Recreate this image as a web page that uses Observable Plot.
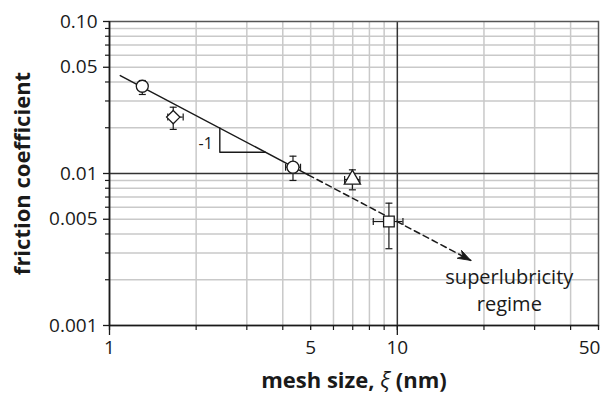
<!DOCTYPE html>
<html><head><meta charset="utf-8">
<script src="https://cdn.jsdelivr.net/npm/d3@7"></script>
<script src="https://cdn.jsdelivr.net/npm/@observablehq/plot@0.6"></script>
<style>body{margin:0;background:#fff}</style>
</head><body><div id="chart"></div>
<script>
// tick values
const xMajor = [1, 5, 10, 50];
const xMajorLabels = ["1", "5", "10", "50"];
const xMinor = [2, 3, 4, 6, 7, 8, 9, 20, 30, 40];
const xGrid = [2, 3, 4, 5, 6, 7, 8, 9, 20, 30, 40];
const yMajor = [0.1, 0.05, 0.01, 0.005, 0.001];
const yMajorLabels = ["0.10", "0.05", "0.01", "0.005", "0.001"];
const yMinor = [0.002, 0.003, 0.004, 0.006, 0.007, 0.008, 0.009, 0.02, 0.03, 0.04, 0.06, 0.07, 0.08, 0.09];
const yGrid = [0.002, 0.003, 0.004, 0.005, 0.006, 0.007, 0.008, 0.009, 0.02, 0.03, 0.04, 0.05, 0.06, 0.07, 0.08, 0.09];

// data points
const shapes = ["circle", "diamond2", "circle", "triangle", "square"];
const xs  = [1.30, 1.665, 4.34, 6.98, 9.35];
const ys  = [0.0375, 0.0235, 0.0110, 0.00913, 0.00483];
const yLo = [0.0331, 0.0195, 0.0090, 0.00781, 0.00320];
const yHi = [0.0409, 0.0273, 0.0130, 0.01057, 0.00638];
const xLo = [1.30, 1.594, 4.09, 6.56, 8.25];
const xHi = [1.30, 1.803, 4.61, 7.41, 10.46];

// trend line (slope -1)
const solidX = [1.09, 4.9];
const solidY = [0.0441, 0.0098];
const dashX = [4.9, 18.0];
const dashY = [0.0098, 0.00268];
// slope triangle
const triX = [2.417, 2.417, 3.48];
const triY = [0.0199, 0.0138, 0.0138];

const xLabel = "mesh size, ξ (nm)";
const yLabel = "friction coefficient";

const pts = xs.map((x, i) => ({x, y: ys[i], shape: shapes[i], yLo: yLo[i], yHi: yHi[i], xLo: xLo[i], xHi: xHi[i]}));
const xErr = pts.filter(d => d.xHi > d.xLo);
const solid = solidX.map((x, i) => ({x, y: solidY[i]}));
const dash = dashX.map((x, i) => ({x, y: dashY[i]}));
const tri = triX.map((x, i) => ({x, y: triY[i]}));
const xTickLabels = xMajor.map((v, i) => ({v, t: xMajorLabels[i]}));
const xTickInner = xTickLabels.slice(0, -1);
const xTickLast = xTickLabels.slice(-1);

const capH = {draw(ctx, size) { const r = Math.sqrt(size / Math.PI); ctx.moveTo(-r, 0); ctx.lineTo(r, 0); }};
const capV = {draw(ctx, size) { const r = Math.sqrt(size / Math.PI); ctx.moveTo(0, -r); ctx.lineTo(0, r); }};
const head = {draw(ctx) { ctx.moveTo(0, 0); ctx.lineTo(-13, -4.5); ctx.lineTo(-9, 0); ctx.lineTo(-13, 4.5); ctx.closePath(); }};
const noLabel = () => "";

const ink = "#1a1a1a";
const chart = Plot.plot({
  width: 606, height: 399,
  marginTop: 21, marginRight: 8, marginBottom: 74, marginLeft: 109,
  style: {fontFamily: "'Open Sans', sans-serif", fontSize: "19px", color: ink, background: "#fff"},
  x: {type: "log", domain: [1, 50]},
  y: {type: "log", domain: [0.001, 0.1]},
  marks: [
    Plot.ruleX(xGrid, {stroke: "#c9c9c9", strokeWidth: 1.5}),
    Plot.ruleY(yGrid, {stroke: "#c9c9c9", strokeWidth: 1.5}),
    Plot.ruleX([10], {stroke: "#333", strokeWidth: 1.5}),
    Plot.ruleY([0.01], {stroke: "#333", strokeWidth: 1.5}),
    Plot.frame({stroke: "#555", strokeWidth: 1.5}),
    Plot.ruleX([1], {stroke: ink, strokeWidth: 1.6}),
    Plot.ruleY([0.001], {stroke: ink, strokeWidth: 1.6}),
    // tick marks
    Plot.axisY(yMajor, {tickSize: 6, tickFormat: noLabel, stroke: ink, strokeWidth: 1.3, label: null}),
    Plot.axisY(yMinor, {tickSize: 4, tickFormat: noLabel, stroke: ink, strokeWidth: 1.2, label: null}),
    Plot.axisX(xMajor, {tickSize: 5, tickFormat: noLabel, stroke: ink, strokeWidth: 1.3, label: null}),
    Plot.axisX(xMinor, {tickSize: 5, tickFormat: noLabel, stroke: ink, strokeWidth: 1.2, label: null}),
    Plot.axisX([1, 10], {tickSize: 10, tickFormat: noLabel, stroke: ink, strokeWidth: 1.3, label: null}),
    // tick labels
    Plot.text(yMajor, {y: d => d, text: (d, i) => yMajorLabels[i], frameAnchor: "left", textAnchor: "end", dx: -12, fontSize: 19, fill: ink}),
    Plot.text(xTickInner, {x: "v", text: "t", frameAnchor: "bottom", lineAnchor: "top", dy: 15, fontSize: 19, fill: ink}),
    Plot.text(xTickLast, {x: "v", text: "t", frameAnchor: "bottom", lineAnchor: "top", dy: 15, dx: -9, fontSize: 19, fill: ink}),
    // trend
    Plot.line(solid, {x: "x", y: "y", stroke: ink, strokeWidth: 1.5}),
    Plot.line(dash, {x: "x", y: "y", stroke: ink, strokeWidth: 1.5, strokeDasharray: "6,4"}),
    Plot.dot([dash[dash.length - 1]], {x: "x", y: "y", symbol: head, fill: ink, stroke: ink, strokeWidth: 0.8, rotate: 28}),
    Plot.line(tri, {x: "x", y: "y", stroke: ink, strokeWidth: 1.4}),
    Plot.text(["-1"], {x: triX[0], y: 0.01568, textAnchor: "end", dx: -7, fontSize: 16, fill: ink}),
    // error bars
    Plot.ruleX(pts, {x: "x", y1: "yLo", y2: "yHi", stroke: ink, strokeWidth: 1.2}),
    Plot.dot(pts, {x: "x", y: "yLo", symbol: capH, r: 3.5, stroke: ink, strokeWidth: 1.2}),
    Plot.dot(pts, {x: "x", y: "yHi", symbol: capH, r: 3.5, stroke: ink, strokeWidth: 1.2}),
    Plot.ruleY(xErr, {y: "y", x1: "xLo", x2: "xHi", stroke: ink, strokeWidth: 1.2}),
    Plot.dot(xErr, {x: "xLo", y: "y", symbol: capV, r: 3.5, stroke: ink, strokeWidth: 1.2}),
    Plot.dot(xErr, {x: "xHi", y: "y", symbol: capV, r: 3.5, stroke: ink, strokeWidth: 1.2}),
    // markers
    Plot.dot(pts, {x: "x", y: "y", symbol: "shape", r: 6, fill: "white", stroke: ink, strokeWidth: 1.3}),
    // annotation
    Plot.text(["superlubricity\nregime"], {x: 24.5, y: 0.00174, fontSize: 20, lineHeight: 1.35, fill: ink}),
    // axis titles
    Plot.text([xLabel], {frameAnchor: "bottom", dy: 55, lineAnchor: "middle", fontSize: 22, fontWeight: "bold", fill: ink}),
    Plot.text([yLabel], {frameAnchor: "left", dx: -87, rotate: -90, textAnchor: "middle", lineAnchor: "middle", fontSize: 22, fontWeight: "bold", fill: ink})
  ]
});

// italic xi in the x-axis title
chart.querySelectorAll("text").forEach(t => {
  if (t.textContent === xLabel) {
    const parts = xLabel.split("ξ");
    t.textContent = "";
    const ns = "http://www.w3.org/2000/svg";
    const a = document.createElementNS(ns, "tspan"); a.textContent = parts[0];
    const b = document.createElementNS(ns, "tspan"); b.textContent = "ξ"; b.setAttribute("font-style", "italic"); b.setAttribute("font-weight", "normal");
    const c = document.createElementNS(ns, "tspan"); c.textContent = parts[1];
    t.append(a, b, c);
  }
});
document.getElementById("chart").append(chart);
</script>
</body></html>
